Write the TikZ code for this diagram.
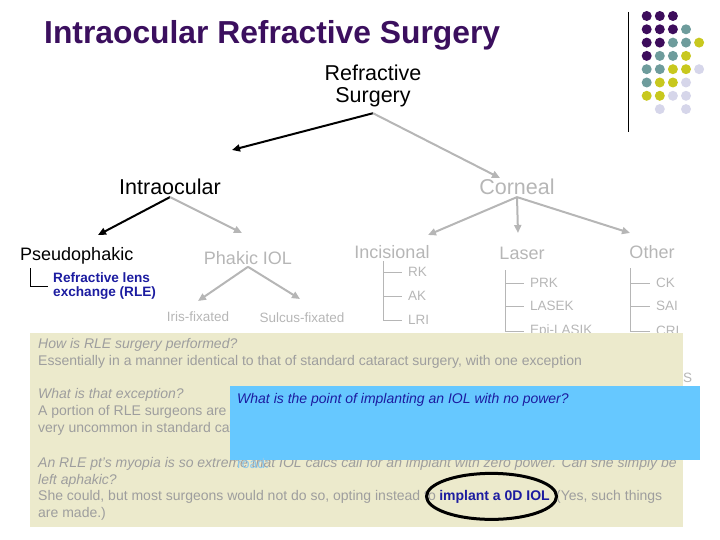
\documentclass[tikz,border=0pt]{standalone}
\usepackage{fontspec}
\setmainfont{Liberation Sans}
\usetikzlibrary{arrows.meta,positioning}
\definecolor{titlepurple}{HTML}{3B0F5E}
\definecolor{dotpurple}{HTML}{3D0D5C}
\definecolor{dotteal}{HTML}{6E9C9C}
\definecolor{dotyellow}{HTML}{C8C81E}
\definecolor{dotlav}{HTML}{D6D6EA}
\definecolor{treegray}{HTML}{B6B6B6}
\definecolor{notegray}{HTML}{9E9E9E}
\definecolor{notefill}{HTML}{ECEACC}
\definecolor{popfill}{HTML}{66C8FF}
\definecolor{rleblue}{HTML}{1C1CA0}
\definecolor{roadblue}{HTML}{8CC8EC}
\tikzset{
  titletxt/.style = {inner sep=0pt, text=titlepurple, font=\fontsize{31.8}{33}\selectfont\bfseries},
  toptxt/.style   = {inner sep=2pt, align=center, font=\fontsize{21.5}{23}\selectfont},
  midtxt/.style   = {inner sep=2pt, font=\fontsize{18}{20}\selectfont},
  subtxt/.style   = {inner sep=1pt, text=treegray, font=\fontsize{13.5}{15}\selectfont},
  rletxt/.style   = {inner sep=0pt, align=left, text=rleblue, font=\fontsize{13.6}{14}\selectfont\bfseries},
  note/.style     = {inner sep=0pt, anchor=base west, text=notegray, font=\fontsize{14}{15}\selectfont},
  blkarrow/.style = {line width=2pt, -{Triangle[length=8pt,width=7pt]}},
  grayarrow/.style= {line width=2pt, treegray, -{Triangle[length=8pt,width=7pt]}},
  twig/.style     = {line width=1pt, treegray},
}
\begin{document}
\begin{tikzpicture}[x=1pt,y=-1pt]
 \useasboundingbox (0,0) rectangle (720,540);
 % title and corner dots
 \node[titletxt, anchor=base west] (title) at (44,44) {Intraocular Refractive Surgery};
 \draw[line width=1pt] (628,12) -- (628,132);
 \foreach \cl/\pts in {dotpurple/{0/0,1/0,2/0,0/1,1/1,2/1,0/2,1/2,0/3},
                       dotteal/{3/1,2/2,3/2,1/3,2/3,0/4,1/4,0/5},
                       dotyellow/{4/2,3/3,2/4,3/4,1/5,2/5,0/6,1/6},
                       dotlav/{4/4,3/5,2/6,3/6,1/7,3/7}}{
   \foreach \i/\j in \pts
     \fill[\cl] (646.7+13.1*\i, 16+13.3*\j) circle[radius=5pt];}
 % tree
 \node[toptxt, inner ysep=6pt] (rs) at (373,86) {Refractive\\[-1pt]Surgery};
 \node[toptxt] (intra) at (170,187) {Intraocular};
 \node[toptxt, text=treegray] (corn) at (517,187) {Corneal};
 \node[midtxt, anchor=west] (pseudo) at (18,256) {Pseudophakic};
 \node[rletxt, anchor=west] (rle) at (53,286) {Refractive lens\\exchange (RLE)};
 \node[midtxt, text=treegray] (phakic) at (248,258) {Phakic IOL};
 \node[subtxt] (iris) at (198,317) {Iris-fixated};
 \node[subtxt] (sulcus) at (302,318) {Sulcus-fixated};
 \node[midtxt, text=treegray] (incis) at (392,252) {Incisional};
 \node[midtxt, text=treegray] (laser) at (522,253) {Laser};
 \node[midtxt, text=treegray] (other) at (652,252) {Other};
 \coordinate (to-intra) at (232,150);
 \coordinate (to-corn) at (500,178);
 \coordinate (to-pseudo) at (98,235);
 \coordinate (to-phakic) at (242,233);
 \coordinate (to-iris) at (198,301);
 \coordinate (to-sulcus) at (300,299);
 \coordinate (to-incis) at (428,235);
 \coordinate (to-laser) at (518,233);
 \coordinate (to-other) at (630,233);
 \draw[blkarrow] (rs.south) -- (to-intra);
 \draw[grayarrow] (rs.south) -- (to-corn);
 \draw[blkarrow] (intra.south) -- (to-pseudo);
 \draw[grayarrow] (intra.south) -- (to-phakic);
 \draw[grayarrow] (phakic.south) -- (to-iris);
 \draw[grayarrow] (phakic.south) -- (to-sulcus);
 \draw[grayarrow] (corn.south) -- (to-incis);
 \draw[grayarrow] (corn.south) -- (to-laser);
 \draw[grayarrow] (corn.south) -- (to-other);
 % pseudophakic bracket
 \coordinate (pseudo-bar) at (30,268);
 \draw[line width=1pt] (pseudo-bar) |- ([xshift=-5pt]rle.west);
 % corneal lists
 \coordinate (incis-bar) at (383,261);
 \coordinate (laser-bar) at (505,270);
 \coordinate (other-bar) at (630,268);
 \foreach \n/\t/\y in {rk/RK/272, ak/AK/296, lri/LRI/320}{
   \node[subtxt, anchor=west] (\n) at (407,\y) {\t};
   \draw[twig] (incis-bar) |- ([xshift=-5pt]\n.west);}
 \foreach \n/\t/\y in {prk/PRK/283, lasek/LASEK/306, epi/Epi-LASIK/331}{
   \node[subtxt, anchor=west] (\n) at (529,\y) {\t};
   \draw[twig] (laser-bar) |- ([xshift=-5pt]\n.west);}
 \foreach \n/\t/\y in {ck/CK/283, sai/SAI/306, cri/CRI/331}{
   \node[subtxt, anchor=west] (\n) at (655,\y) {\t};
   \draw[twig] (other-bar) |- ([xshift=-5pt]\n.west);}
 \node[subtxt, anchor=west] (tailS) at (682,378) {S};
 % note box
 \fill[notefill] (30,333) rectangle (683,527);
 \node[note] (n1) at (38,348) {\itshape How is RLE surgery performed?};
 \node[note] (n2) at (38,365) {Essentially in a manner identical to that of standard cataract surgery, with one exception};
 \node[note] (n3) at (38,398) {\itshape What is that exception?};
 \node[note] (n4) at (38,415) {A portion of RLE surgeons are v};
 \node[note] (n5) at (38,432) {very uncommon in standard cat};
 \node[note] (n6) at (38,467) {\itshape An RLE pt's myopia is so extreme that IOL calcs call for an implant with zero power. Can she simply be};
 \node[note] (n7) at (38,484) {\itshape left aphakic?};
 \node[note] (n8) at (38,500) {She could, but most surgeons would not do so, opting instead to};
 \node[note, text=rleblue, font=\fontsize{14}{15}\selectfont\bfseries, right=3pt of n8.base east, anchor=base west] (zero) {implant a 0D IOL};
 \node[note, right=6pt of zero.base east, anchor=base west] (n9) {(Yes, such things};
 \node[note] (n10) at (38,517) {are made.)};
 \draw[line width=3pt] ([xshift=-3pt]zero.center) ellipse[x radius=65pt, y radius=23pt];
 % pop-up box
 \fill[popfill] (230,386) rectangle (700,460);
 \node[note, text=rleblue] (popq) at (237,403) {\itshape What is the point of implanting an IOL with no power?};
 \node[note, text=roadblue] (road) at (237,468) {road:};
\end{tikzpicture}
\end{document}
